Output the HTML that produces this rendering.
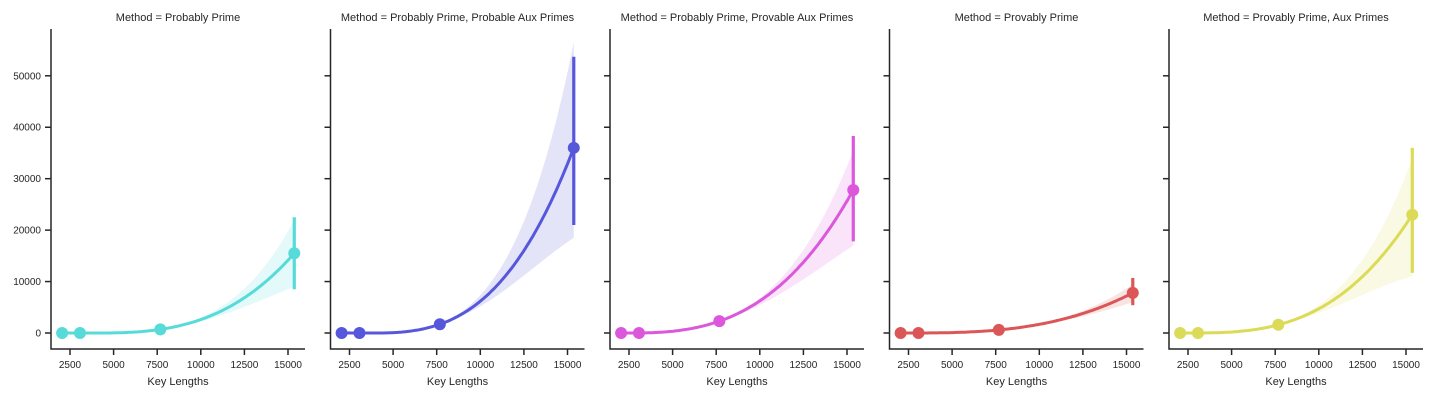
<!DOCTYPE html>
<html><head><meta charset="utf-8"><style>
body{margin:0;background:#fff;}
svg text{font-family:"Liberation Sans",sans-serif;fill:#262626;}
</style></head><body>
<svg id="s" width="1442" height="400" xmlns="http://www.w3.org/2000/svg"></svg>
<script>
const S=document.getElementById('s');
const panels=[
 {t:"Method = Probably Prime",c:"#57dbd8",m:700,M:15500,eL:8500,eU:22500,bL:9000,bU:22000},
 {t:"Method = Probably Prime, Probable Aux Primes",c:"#5757db",m:1700,M:36000,eL:21000,eU:53700,bL:18500,bU:56500},
 {t:"Method = Probably Prime, Provable Aux Primes",c:"#db57db",m:2300,M:27800,eL:17800,eU:38300,bL:17000,bU:35500},
 {t:"Method = Provably Prime",c:"#db5757",m:600,M:7800,eL:5400,eU:10700,bL:6000,bU:9500},
 {t:"Method = Provably Prime, Aux Primes",c:"#dbdb57",m:1600,M:23000,eL:11700,eU:36000,bL:11000,bU:34000}];
let h='';
const xs=[2048,3072,7680,15360];
function lag(ys,x){let r=0;for(let i=0;i<4;i++){let p=ys[i];for(let j=0;j<4;j++)if(j!=i)p*=(x-xs[j])/(xs[i]-xs[j]);r+=p;}return r;}
panels.forEach((p,k)=>{
 const o=k*279.5, L=51+o, R=305+o;
 const X=v=>70+o+(v-2500)*0.01744, Y=v=>333-v*0.005144;
 h+=`<text x="${(L+R)/2}" y="21" font-size="11" text-anchor="middle">${p.t}</text>`;
 h+=`<path d="M${L},29V349H${R}" fill="none" stroke="#262626" stroke-width="1.5"/>`;
 for(let v=0;v<=50000;v+=10000){const y=Y(v);h+=`<line x1="${L-6}" x2="${L}" y1="${y}" y2="${y}" stroke="#262626" stroke-width="1.5"/>`;
  if(k==0)h+=`<text x="${L-10}" y="${y+3.5}" font-size="10" text-anchor="end">${v}</text>`;}
 for(let v=2500;v<=15000;v+=2500){const x=X(v);h+=`<line x1="${x}" x2="${x}" y1="349" y2="355" stroke="#262626" stroke-width="1.5"/><text x="${x}" y="368" font-size="10" text-anchor="middle">${v}</text>`;}
 h+=`<text x="${(L+R)/2}" y="385" font-size="11" text-anchor="middle">Key Lengths</text>`;
 const ys=[0,0,p.m,p.M];
 let up=[],lo=[],cv=[];
 for(let i=0;i<=120;i++){const x=2048+(15360-2048)*i/120;let f=Math.max(lag(ys,x),0);
  let w=Math.pow(Math.max(0,(x-6000)/(15360-6000)),1.3);
  let fu=f*(1+w*(p.bU/p.M-1)), fl=f*(1+w*(p.bL/p.M-1));
  cv.push(X(x).toFixed(1)+','+Y(f).toFixed(1));up.push(X(x).toFixed(1)+','+Y(fu).toFixed(1));lo.push(X(x).toFixed(1)+','+Y(fl).toFixed(1));}
 h+=`<polygon points="${up.join(' ')} ${lo.reverse().join(' ')}" fill="${p.c}" fill-opacity="0.16"/>`;
 h+=`<polyline points="${cv.join(' ')}" fill="none" stroke="${p.c}" stroke-width="3"/>`;
 h+=`<line x1="${X(15360)}" x2="${X(15360)}" y1="${Y(p.eL)}" y2="${Y(p.eU)}" stroke="${p.c}" stroke-width="3.2"/>`;
 ys.forEach((v,i)=>{h+=`<circle cx="${X(xs[i])}" cy="${Y(v)}" r="6" fill="${p.c}"/>`;});
});
h+=`<text x="-3" y="232" font-size="11" transform="rotate(-90 -3 232)" text-anchor="middle">Time</text>`;
S.innerHTML=h;
</script>
</body></html>
